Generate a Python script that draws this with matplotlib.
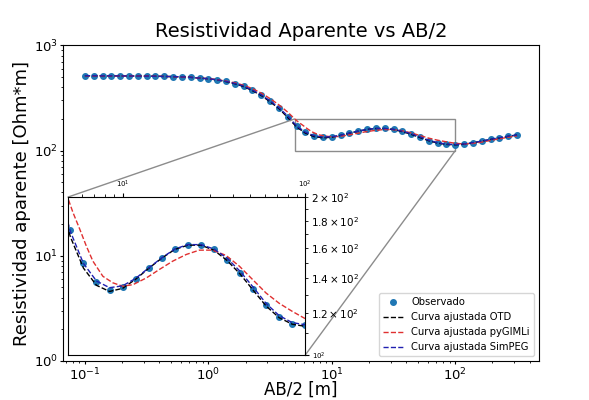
import matplotlib
matplotlib.use('Agg')
import matplotlib.pyplot as plt
from matplotlib.ticker import FixedLocator, NullFormatter, FuncFormatter
from mpl_toolkits.axes_grid1.inset_locator import mark_inset

ab2 = [0.1, 0.1179, 0.1389, 0.1638, 0.1931, 0.2276, 0.2683, 0.3162, 0.3728, 0.4394,
       0.5179, 0.6105, 0.7197, 0.8483, 1.0, 1.179, 1.389, 1.638, 1.931, 2.276,
       2.683, 3.162, 3.728, 4.394, 5.179, 6.105, 7.197, 8.483, 10.0, 11.79,
       13.89, 16.38, 19.31, 22.76, 26.83, 31.62, 37.28, 43.94, 51.79, 61.05,
       71.97, 84.83, 100.0, 117.9, 138.9, 163.8, 193.1, 227.6, 268.3, 316.2]

rho_obs = [515, 515, 514, 514, 513, 512, 511, 510, 509, 507,
           505, 503, 497, 489, 482, 471, 454, 434, 409, 374,
           337, 294, 254, 210, 173, 150, 137.7, 133.3, 134.9, 139.7,
           146.3, 152.8, 159.1, 162.4, 162.4, 159.1, 152.0, 143.5, 133.7, 124.4,
           118.0, 114.7, 114.2, 116, 119, 123, 128, 133, 137, 141]

rho_otd = [515, 515, 514, 514, 513, 512, 511, 510, 509, 507,
           505, 502, 497, 489, 481, 470, 453, 432, 406, 371,
           334, 291, 251, 206, 168, 146.5, 135.8, 132.2, 134.0, 139.5,
           146.3, 153.0, 159.0, 162.0, 162.0, 158.5, 151.5, 142.8, 133.0, 124.0,
           117.8, 114.5, 113.4, 115, 118.5, 123, 127.5, 132, 136.5, 140.5]

rho_sim = [515, 515, 514, 514, 513, 512, 511, 510, 509, 507,
           505, 503, 497, 489, 482, 471, 455, 435, 410, 376,
           339, 297, 256, 213, 172, 149.5, 138.4, 134.4, 135.5, 140.0,
           146.6, 153.2, 159.3, 162.4, 162.4, 159.3, 153.0, 144.5, 134.8, 125.4,
           118.9, 115.3, 114.2, 115.6, 119, 123.2, 128, 132.5, 137, 141]

# pyGIMLi curve, read at its own positions (denser inside the zoomed window)
ab2_pyg = [0.1, 0.1179, 0.1389, 0.1638, 0.1931, 0.2276, 0.2683, 0.3162, 0.3728, 0.4394,
           0.5179, 0.6105, 0.7197, 0.8483, 1.0, 1.179, 1.389, 1.638, 1.931, 2.276,
           2.683, 3.162, 3.728, 4.394, 5.0, 5.35, 5.82, 6.33, 6.88, 7.80,
           8.85, 10.0, 11.4, 13.5, 15.9, 18.8, 22.3, 26.3, 31.1, 36.8,
           43.6, 51.5, 61.0, 72.0, 85.0, 98.7, 117.9, 138.9, 163.8, 193.1,
           227.6, 268.3, 316.2]
rho_pyg = [514, 514, 514, 513, 513, 512, 511, 510, 509, 507,
           505, 502, 497, 490, 483, 473, 458, 441, 418, 388,
           352, 312, 272, 232, 200, 187, 174, 161.4, 151, 141.3,
           137.3, 135.3, 136.2, 140.3, 145.6, 151, 155.5, 158.5, 158.5, 154.9,
           147.7, 139.3, 131.3, 125.5, 121.1, 117.6, 115.5, 117, 120.5, 125,
           129.5, 134, 138]

labels = ['Observado', 'Curva ajustada OTD', 'Curva ajustada pyGIMLi', 'Curva ajustada SimPEG']

# inset tick positions
ins_x_major = [10, 100]
ins_x_minor = [6, 7, 8, 9, 20, 30, 40, 50, 60, 70, 80, 90]
ins_y_major = [100]
ins_y_minor = [110, 120, 130, 140, 150, 160, 170, 180, 190, 200]
ins_y_labeled = {120: '1.2', 140: '1.4', 160: '1.6', 180: '1.8', 200: '2'}


def draw(a):
    a.plot(ab2, rho_obs, 'o', color='C0', ms=4, label=labels[0])
    a.plot(ab2, rho_otd, '--', color='k', lw=1.0, label=labels[1])
    a.plot(ab2_pyg, rho_pyg, '--', color='#e03030', lw=1.0, label=labels[2])
    a.plot(ab2, rho_sim, '--', color='#2020b0', lw=1.0, label=labels[3])
    a.set_xscale('log')
    a.set_yscale('log')


fig = plt.figure(figsize=(5.89, 4.0), dpi=100)
ax = fig.add_axes([0.1075, 0.0975, 0.807, 0.789])
draw(ax)
ax.set_ylim(1, 1000)
ax.set_title('Resistividad Aparente vs AB/2', fontsize=14)
ax.set_xlabel('AB/2 [m]', fontsize=12, labelpad=-1.5)
ax.set_ylabel('Resistividad aparente [Ohm*m]', fontsize=13, labelpad=1.5)
ax.tick_params(which='major', labelsize=9.5, length=2.5, pad=1.5)
ax.tick_params(which='minor', length=1.5)
ax.legend(loc='lower right', fontsize=7.2)

axins = ax.inset_axes([0.009, 0.019, 0.5, 0.5])
draw(axins)
axins.set_xlim(5, 100)
axins.set_ylim(100, 200)
axins.xaxis.set_major_locator(FixedLocator(ins_x_major))
axins.xaxis.set_minor_locator(FixedLocator(ins_x_minor))
axins.xaxis.set_minor_formatter(NullFormatter())
axins.yaxis.set_major_locator(FixedLocator(ins_y_major))
axins.yaxis.set_minor_locator(FixedLocator(ins_y_minor))


def yminor(v, pos):
    key = int(round(v))
    if key in ins_y_labeled:
        return r'$\mathdefault{%s\times10^{2}}$' % ins_y_labeled[key]
    return ''


axins.yaxis.set_minor_formatter(FuncFormatter(yminor))
axins.xaxis.tick_top()
axins.yaxis.tick_right()
axins.tick_params(which='major', labelsize=5, length=3, pad=2)
axins.tick_params(which='minor', labelsize=7.5, length=2, pad=2)
mark_inset(ax, axins, loc1=2, loc2=4, fc='none', ec='0.55')

fig.savefig('out.png', dpi=100)
